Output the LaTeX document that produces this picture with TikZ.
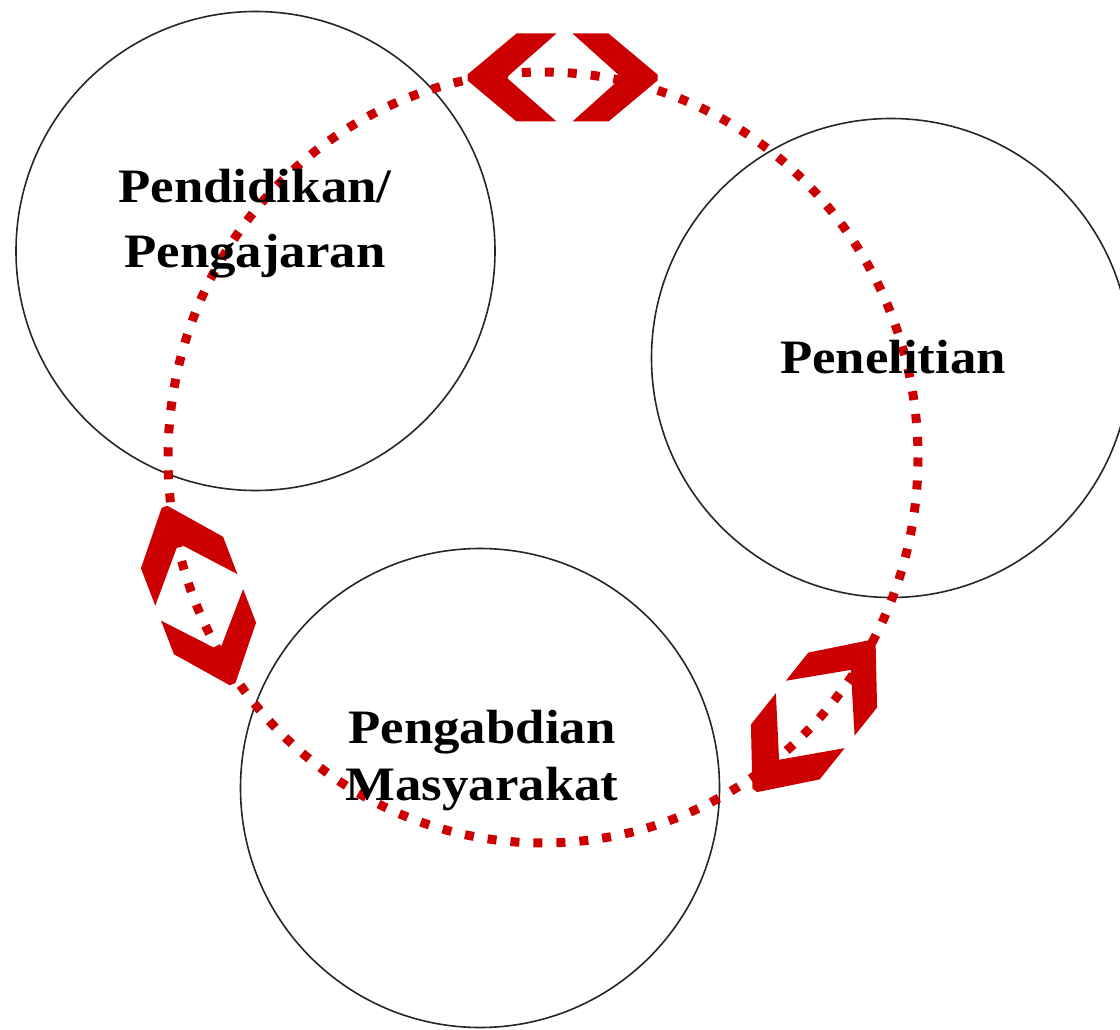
\documentclass[tikz,border=0pt]{standalone}
\usepackage{fontspec}
\newfontfamily\lblfont[FakeStretch=1.1]{Liberation Serif}
\definecolor{arrowred}{RGB}{204,0,0}
\tikzset{
  ring/.style={circle, draw=black!85, line width=1.6pt, minimum size=479pt, inner sep=0pt},
  lbl/.style={font=\lblfont\bfseries\fontsize{48}{57}\selectfont, align=center, text=black},
  dotring/.style={draw=arrowred, line width=9pt, dash pattern=on 9pt off 14pt},
  chevpair/.pic={
    \fill[arrowred] (-95,-3) -- (-95,3) -- (-46,44) -- (-6,44) -- (-56,0) -- (-6,-44) -- (-46,-44) -- cycle;
    \fill[arrowred] (95,-3) -- (95,3) -- (46,44) -- (10,44) -- (59,0) -- (10,-44) -- (46,-44) -- cycle;
  }
}
\begin{document}
\begin{tikzpicture}[x=1pt,y=-1pt]
  \useasboundingbox (0,0) rectangle (1120,1030);
  % circles
  \node[ring] (edu) at (255.5,251) {};
  \node[ring] (res) at (891,358) {};
  \node[ring] (com) at (480,788) {};
  % dotted cycle
  \coordinate (cyc) at (543,457.5);
  \draw[dotring] (cyc) ellipse [x radius=375, y radius=385.5];
  % double chevrons
  \pic[rotate=0] (chtop) at (562.5,77.5) {chevpair};
  \pic[rotate=-69] (chleft) at (198.5,595.5) {chevpair};
  \pic[rotate=51.4] (chright) at (814,716) {chevpair};
  % labels
  \node[lbl, font=\lblfont\bfseries\fontsize{48}{65}\selectfont] (tedu) at (255,224) {Pendidikan/\\Pengajaran};
  \node[lbl] (tres) at (893,357) {Penelitian};
  \node[lbl] (tcom) at (482,761) {Pengabdian\\Masyarakat};
\end{tikzpicture}
\end{document}
